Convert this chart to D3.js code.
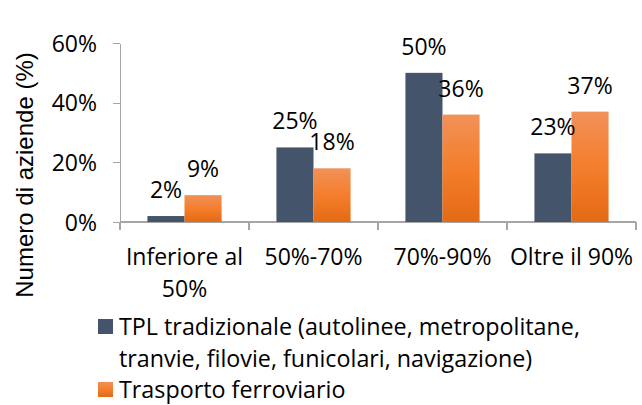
<!doctype html>
<html>
<head>
<meta charset="utf-8">
<script src="https://d3js.org/d3.v7.min.js"></script>
<style>
  body { margin: 0; background: #fff; }
  svg { display: block; }
  .lbl { font-family: "Open Sans", sans-serif; font-size: 23px; fill: #000; }
  .leglbl { font-family: "Open Sans", sans-serif; font-size: 23.3px; fill: #000; }
  .axis path, .axis line { stroke: #a6a6a6; stroke-width: 1.3; shape-rendering: crispEdges; }
</style>
</head>
<body>
<script>
  // data
  var categories = ["Inferiore al 50%", "50%-70%", "70%-90%", "Oltre il 90%"];
  var categoryLines = [["Inferiore al", "50%"], ["50%-70%"], ["70%-90%"], ["Oltre il 90%"]];
  var seriesNames = ["TPL tradizionale (autolinee, metropolitane, tranvie, filovie, funicolari, navigazione)", "Trasporto ferroviario"];
  var seriesLines = [["TPL tradizionale (autolinee, metropolitane,", "tranvie, filovie, funicolari, navigazione)"], ["Trasporto ferroviario"]];
  var tplValues = [0.02, 0.25, 0.50, 0.23];
  var ferroValues = [0.09, 0.18, 0.36, 0.37];
  var yTicks = [0, 0.2, 0.4, 0.6];
  var yTitle = "Numero di aziende (%)";

  var width = 642, height = 405;
  var svg = d3.select("body").append("svg").attr("width", width).attr("height", height);

  var defs = svg.append("defs");
  var grad = defs.append("linearGradient").attr("id", "orangeGrad")
    .attr("x1", 0).attr("y1", 0).attr("x2", 0).attr("y2", 1);
  grad.append("stop").attr("offset", "0%").attr("stop-color", "#f19159");
  grad.append("stop").attr("offset", "50%").attr("stop-color", "#f47e2c");
  grad.append("stop").attr("offset", "100%").attr("stop-color", "#e46a14");

  var colors = ["#44546a", "url(#orangeGrad)"];

  var x0 = d3.scaleBand().domain(categories).range([120, 636]).padding(0);
  var x1 = d3.scaleBand().domain([0, 1]).range([0, x0.bandwidth()]).paddingInner(0).paddingOuter(0.74);
  var y = d3.scaleLinear().domain([0, 0.6]).range([222, 43]);

  var data = categories.map(function(c, i) {
    return { cat: c, vals: [tplValues[i], ferroValues[i]] };
  });

  // axes
  var yAxis = svg.append("g").attr("class", "axis").attr("transform", "translate(120,0)")
    .call(d3.axisLeft(y).tickValues(yTicks).tickSize(7).tickSizeOuter(0).tickFormat(d3.format(".0%")));
  yAxis.selectAll("text").attr("class", "lbl").attr("x", -23).attr("dy", "0.36em");
  yAxis.attr("font-size", null).attr("font-family", null);

  var xAxis = svg.append("g").attr("class", "axis").attr("transform", "translate(0,222)");
  xAxis.append("line").attr("x1", x0.range()[0]).attr("x2", x0.range()[1]).attr("y1", 0).attr("y2", 0);
  var bounds = categories.map(function(c) { return x0(c); }).concat([x0.range()[1]]);
  xAxis.selectAll(".tk").data(bounds).enter().append("line").attr("class", "tk")
    .attr("x1", function(d) { return d; }).attr("x2", function(d) { return d; })
    .attr("y1", 0).attr("y2", 8);

  // bars
  var groups = svg.selectAll(".grp").data(data).enter().append("g").attr("class", "grp")
    .attr("transform", function(d) { return "translate(" + x0(d.cat) + ",0)"; });
  groups.selectAll("rect").data(function(d) { return d.vals; }).enter().append("rect")
    .attr("x", function(d, i) { return x1(i); })
    .attr("width", x1.bandwidth())
    .attr("y", function(d) { return y(d); })
    .attr("height", function(d) { return y(0) - y(d); })
    .attr("fill", function(d, i) { return colors[i]; });
  groups.selectAll("text").data(function(d) { return d.vals; }).enter().append("text")
    .attr("class", "lbl").attr("text-anchor", "middle")
    .attr("x", function(d, i) { return x1(i) + x1.bandwidth() / 2; })
    .attr("y", function(d) { return y(d) - 18; })
    .text(function(d) { return d3.format(".0%")(d); });

  // category labels
  svg.selectAll(".cat").data(categories).enter().append("text").attr("class", "lbl cat")
    .attr("text-anchor", "middle")
    .each(function(d, i) {
      var t = d3.select(this);
      categoryLines[i].forEach(function(line, j) {
        t.append("tspan").attr("x", x0(d) + x0.bandwidth() / 2).attr("y", 265 + j * 32).text(line);
      });
    });

  // y title
  svg.append("text").attr("transform", "translate(33,175) rotate(-90)")
    .attr("text-anchor", "middle")
    .style("font-family", "'Liberation Sans', Arial, sans-serif").style("font-size", "24px")
    .text(yTitle);

  // legend
  var legendY = [[335, 367], [398]];
  var leg = svg.selectAll(".leg").data(seriesNames).enter().append("g").attr("class", "leg");
  leg.append("rect").attr("x", 98).attr("width", 15).attr("height", 15)
    .attr("y", function(d, i) { return legendY[i][0] - 16; })
    .attr("fill", function(d, i) { return colors[i]; });
  leg.append("text").attr("class", "leglbl")
    .each(function(d, i) {
      var t = d3.select(this);
      seriesLines[i].forEach(function(line, j) {
        t.append("tspan").attr("x", 119).attr("y", legendY[i][j]).text(line);
      });
    });
</script>
</body>
</html>
